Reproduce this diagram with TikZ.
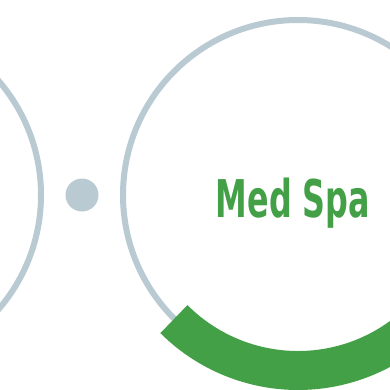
\documentclass[tikz,border=0pt]{standalone}
\usepackage{fontspec}
\newfontfamily\medfont{DejaVu Sans Condensed}[BoldFont={DejaVu Sans Condensed Bold}]
\definecolor{ringgray}{HTML}{B9CAD3}
\definecolor{spagreen}{HTML}{43A047}
\begin{document}
\begin{tikzpicture}[x=1pt,y=1pt,
  ring/.style={circle,draw=ringgray,line width=6pt,minimum size=350pt,inner sep=0pt},
  dotnode/.style={circle,fill=ringgray,minimum size=33pt,inner sep=0pt},
  lbl/.style={text=spagreen,font=\medfont\bfseries\fontsize{52}{52}\selectfont,anchor=base,inner sep=0pt}]
\useasboundingbox (0,0) rectangle (390,-389);
\clip (0,0) rectangle (390,-389);
\node[ring] (left) at (-134,-195) {};
\node[dotnode] (dot) at (82,-195) {};
\node[ring] (right) at (298,-195) {};
\draw[spagreen,line width=39pt] ([shift={(225:175.5)}]right.center) arc (225:330:175.5);
\node[lbl] (title) at (293,-217) {\scalebox{0.68}[1]{Med Spa}};
\end{tikzpicture}
\end{document}
